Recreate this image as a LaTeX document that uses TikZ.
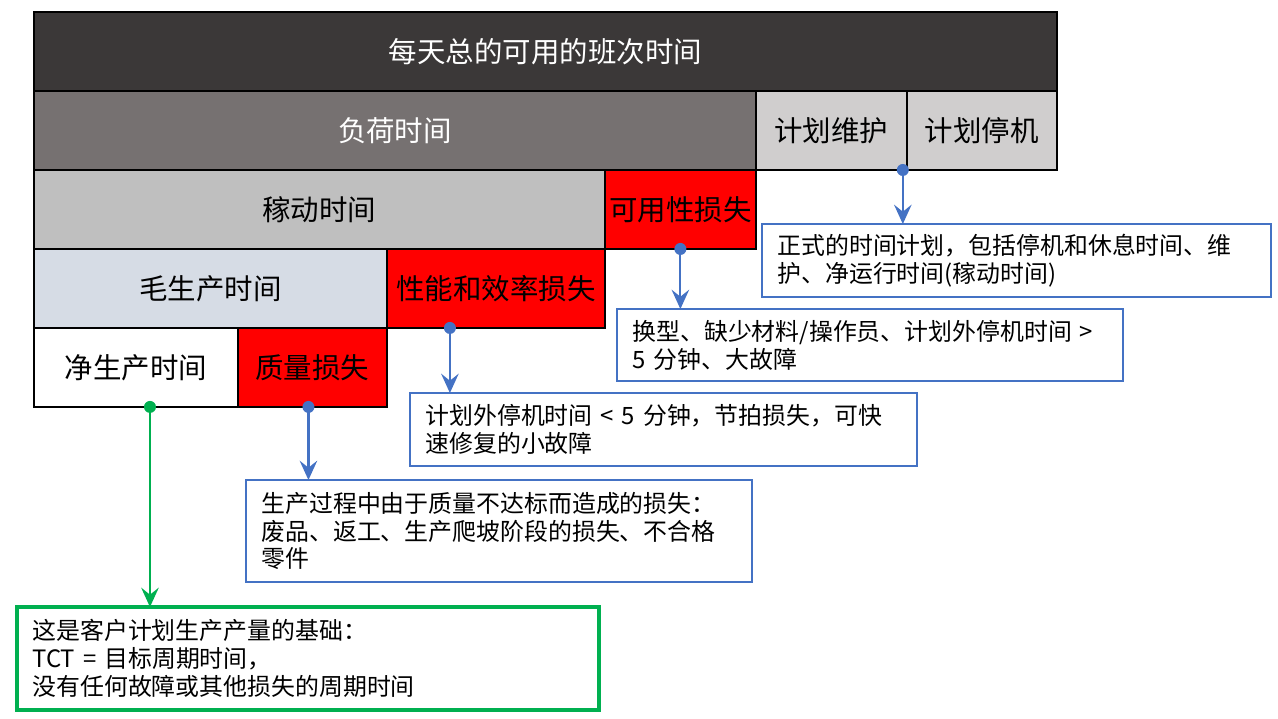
\documentclass[tikz,border=0pt]{standalone}
\usepackage{fontspec}
\setmainfont{Noto Sans CJK SC}
\usetikzlibrary{arrows.meta, positioning, calc}
\definecolor{dark1}{HTML}{3B3838}
\definecolor{grey1}{HTML}{767171}
\definecolor{grey2}{HTML}{D0CECE}
\definecolor{grey3}{HTML}{BFBFBF}
\definecolor{pale1}{HTML}{D6DCE5}
\definecolor{blue1}{HTML}{4472C4}
\definecolor{green1}{HTML}{00B050}
\definecolor{red1}{HTML}{FF0000}

\begin{document}
\begin{tikzpicture}[x=0.02cm, y=-0.02cm,
  bar/.style={draw=black, line width=1pt, inner sep=0pt, outer sep=0pt, minimum height=1.58cm, font=\fontsize{16.2}{19}\selectfont},
  loss/.style={bar, fill=red1},
  note/.style={draw=blue1, line width=1.1pt, fill=white, anchor=north west, align=left, inner xsep=0.31cm, outer sep=0pt, font=\fontsize{13.6}{15.9}\selectfont},
  link/.style={blue1, line width=1.2pt, -{Stealth[length=11pt, width=10pt, inset=4pt]}},
  dot/.style={fill=blue1}
]
  \useasboundingbox (0,0) rectangle (1278,718);

  % time bars
  \node[bar, fill=dark1, text=white, anchor=north west, minimum width=20.46cm] (total) at (34,12) {每天总的可用的班次时间};
  \node[bar, fill=grey1, text=white, anchor=north west, minimum width=14.44cm] (load) at (total.south west) {负荷时间};
  \node[bar, fill=grey2, right=0pt of load, minimum width=3.02cm] (pm) {计划维护};
  \node[bar, fill=grey2, right=0pt of pm, minimum width=3.0cm] (ps) {计划停机};
  \node[bar, fill=grey3, anchor=north west, minimum width=11.42cm] (oper) at (load.south west) {稼动时间};
  \node[loss, right=0pt of oper, minimum width=3.02cm] (avail) {可用性损失};
  \node[bar, fill=pale1, anchor=north west, minimum width=7.06cm] (gross) at (oper.south west) {毛生产时间};
  \node[loss, right=0pt of gross, minimum width=4.36cm] (perf) {性能和效率损失};
  \node[bar, fill=white, anchor=north west, minimum width=4.08cm] (net) at (gross.south west) {净生产时间};
  \node[loss, right=0pt of net, minimum width=2.98cm] (qual) {质量损失};

  % notes
  \node[note, text width=9.56cm, minimum height=1.46cm] (n1) at (762,224) {正式的时间计划，包括停机和休息时间、维\\护、净运行时间(稼动时间)};
  \node[note, text width=9.5cm, minimum height=1.44cm] (n2) at (617,309) {换型、缺少材料/操作员、计划外停机时间 >\\5 分钟、大故障};
  \node[note, text width=9.52cm, minimum height=1.46cm] (n3) at (410,393) {计划外停机时间 < 5 分钟，节拍损失，可快\\速修复的小故障};
  \node[note, text width=9.5cm, minimum height=2.04cm] (n4) at (246,480) {生产过程中由于质量不达标而造成的损失：\\废品、返工、生产爬坡阶段的损失、不合格\\零件};
  \node[note, draw=green1, line width=2pt, text width=11.02cm, minimum height=2.06cm] (n5) at (17,607) {这是客户计划生产产量的基础：\\TCT = 目标周期时间，\\没有任何故障或其他损失的周期时间};

  % connectors
  \coordinate (p1) at ([shift={(-4,0)}]pm.south east);
  \coordinate (p3) at ([shift={(-46,0)}]perf.south);
  \coordinate (p4) at ([shift={(-4,0)}]qual.south);
  \coordinate (p5) at ([shift={(14,0)}]net.south);
  \draw[link] (p1) -- (p1 |- n1.north);
  \draw[link] (avail.south) -- (avail.south |- n2.north);
  \draw[link] (p3) -- (p3 |- n3.north);
  \draw[link] (p4) -- (p4 |- n4.north);
  \draw[link, green1] (p5) -- (p5 |- n5.north);
  \foreach \p in {p1, avail.south, p3, p4}
    \fill[dot] (\p) circle[radius=0.12cm];
  \fill[green1] (p5) circle[radius=0.12cm];
\end{tikzpicture}
\end{document}
